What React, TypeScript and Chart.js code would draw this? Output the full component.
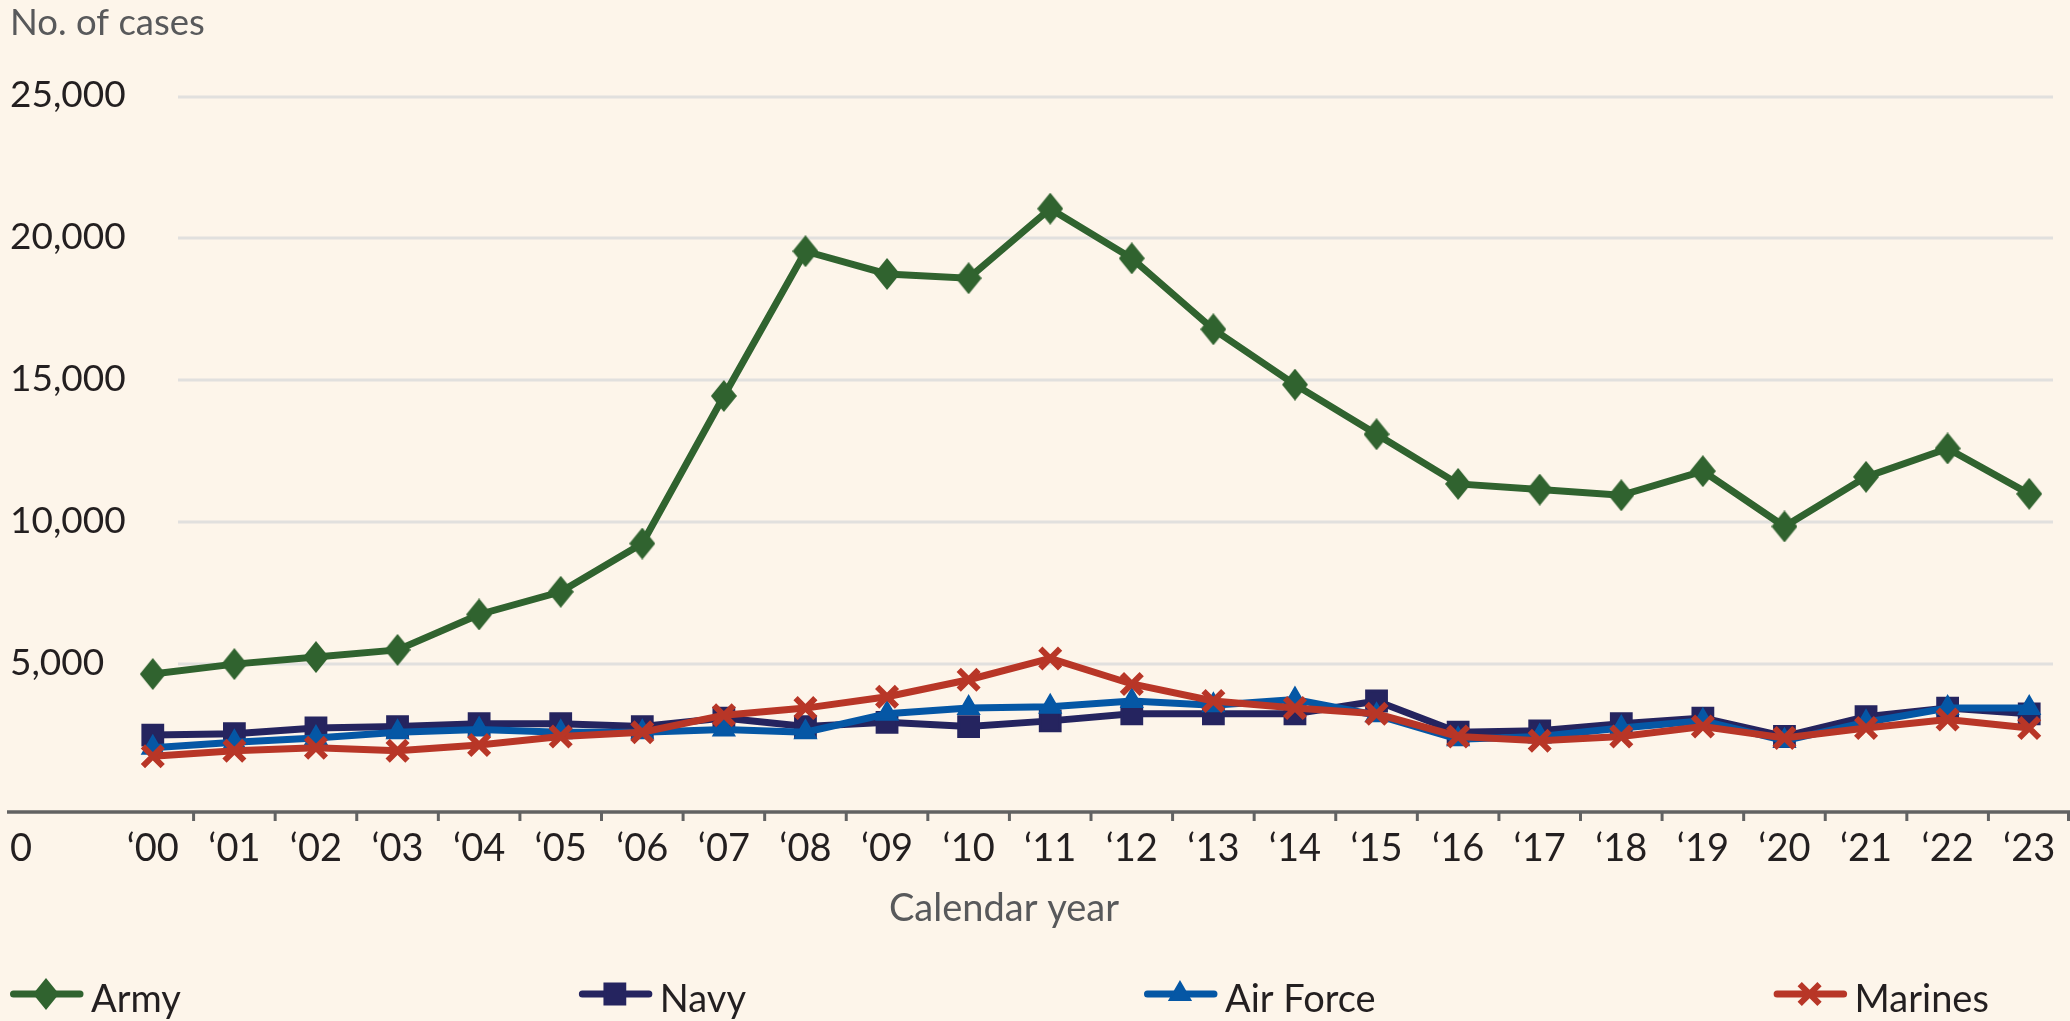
import { useEffect, useRef } from 'react';
import { Chart, registerables } from 'chart.js';
import { drawPoint } from 'chart.js/helpers';

Chart.register(...registerables);

// ---------- data ----------
const YEARS = ['‘00', '‘01', '‘02', '‘03', '‘04', '‘05', '‘06', '‘07', '‘08', '‘09', '‘10', '‘11', '‘12', '‘13', '‘14', '‘15', '‘16', '‘17', '‘18', '‘19', '‘20', '‘21', '‘22', '‘23'];
const ARMY = [4650, 5000, 5250, 5500, 6750, 7550, 9250, 14450, 19550, 18750, 18600, 21050, 19300, 16800, 14850, 13100, 11350, 11150, 10950, 11800, 9850, 11600, 12600, 11000];
const NAVY = [2500, 2550, 2750, 2800, 2900, 2900, 2800, 3100, 2800, 2950, 2800, 3000, 3250, 3250, 3250, 3700, 2600, 2650, 2900, 3100, 2450, 3150, 3450, 3250];
const AIR_FORCE = [2050, 2250, 2400, 2600, 2700, 2600, 2600, 2700, 2600, 3250, 3450, 3500, 3700, 3550, 3750, 3200, 2350, 2450, 2750, 3000, 2300, 2950, 3450, 3450];
const MARINES = [1750, 1950, 2050, 1950, 2150, 2450, 2600, 3200, 3450, 3850, 4450, 5200, 4300, 3700, 3450, 3250, 2450, 2300, 2450, 2800, 2400, 2750, 3050, 2750];
const SERIES_NAMES = ['Army', 'Navy', 'Air Force', 'Marines'];
const Y_MIN = 0;
const Y_MAX = 25000;
const Y_STEP = 5000;
const Y_TITLE = 'No. of cases';
const X_TITLE = 'Calendar year';

// ---------- styles ----------
const FONT = 'Lato, "Open Sans", "DejaVu Sans", sans-serif';
const FONT_SIZE = 38;
const Y_FONT_SIZE = 37;
const TITLE_FONT_SIZE = 36.5;
const BG = '#FDF5EA';
const GRID = '#E1E0DE';
const AXIS = '#626262';
const TEXT = '#231F20';
const MUTED = '#58595B';
const COLORS = ['#30632F', '#25245F', '#0557A5', '#B83627'];

const W = 2070;
const H = 1021;

function diamondCanvas(w: number, h: number, color: string) {
  const c = document.createElement('canvas');
  c.width = w;
  c.height = h;
  const g = c.getContext('2d')!;
  g.fillStyle = color;
  g.beginPath();
  g.moveTo(w / 2, 0);
  g.lineTo(w, h / 2);
  g.lineTo(w / 2, h);
  g.lineTo(0, h / 2);
  g.closePath();
  g.fill();
  return c;
}

export default function App() {
  const ref = useRef<HTMLCanvasElement | null>(null);

  useEffect(() => {
    document.body.style.margin = '0';
    document.body.style.background = BG;
    const canvas = ref.current;
    if (!canvas) return;

    const diamond = diamondCanvas(26, 32, COLORS[0]);

    const markers: any[] = [
      { pointStyle: diamond, radius: 15, borderWidth: 0 },
      { pointStyle: 'rect', radius: 14, borderWidth: 3 },
      { pointStyle: 'triangle', radius: 12, borderWidth: 2 },
      { pointStyle: 'crossRot', radius: 14, borderWidth: 6 },
    ];
    const seriesData = [ARMY, NAVY, AIR_FORCE, MARINES];
    const orders = [0, 3, 2, 1];

    const datasets = seriesData.map((data, i) => ({
      label: SERIES_NAMES[i],
      data,
      borderColor: COLORS[i],
      backgroundColor: COLORS[i],
      borderWidth: 7,
      tension: 0,
      pointStyle: markers[i].pointStyle,
      pointRadius: markers[i].radius,
      pointHoverRadius: markers[i].radius,
      pointBorderWidth: markers[i].borderWidth,
      pointBackgroundColor: COLORS[i],
      pointBorderColor: COLORS[i],
      order: orders[i],
    }));

    const decor = {
      id: 'decor',
      beforeDraw(chart: any) {
        const { ctx, width, height } = chart;
        ctx.save();
        ctx.fillStyle = BG;
        ctx.fillRect(0, 0, width, height);
        ctx.restore();
      },
      beforeDatasetsDraw(chart: any) {
        const { ctx, width } = chart;
        const ys = chart.scales.y;
        const xs = chart.scales.x;
        ctx.save();
        // horizontal grid lines
        ctx.strokeStyle = GRID;
        ctx.lineWidth = 3;
        for (let v = Y_MIN + Y_STEP; v <= Y_MAX; v += Y_STEP) {
          const py = Math.round(ys.getPixelForValue(v));
          ctx.beginPath();
          ctx.moveTo(xs.left + 66, py);
          ctx.lineTo(width - 17, py);
          ctx.stroke();
        }
        // baseline axis
        const base = ys.getPixelForValue(0) + 6;
        ctx.strokeStyle = AXIS;
        ctx.lineWidth = 3.5;
        ctx.beginPath();
        ctx.moveTo(7, base);
        ctx.lineTo(width, base);
        ctx.stroke();
        // tick marks between categories
        ctx.lineWidth = 3;
        const n = YEARS.length;
        const step = xs.getPixelForValue(1) - xs.getPixelForValue(0);
        for (let i = 0; i < n; i++) {
          let px = xs.getPixelForValue(i) + step / 2;
          px = Math.min(px, width - 1.5);
          ctx.beginPath();
          ctx.moveTo(px, base);
          ctx.lineTo(px, base + 9);
          ctx.stroke();
        }
        ctx.restore();
      },
      afterDraw(chart: any) {
        const { ctx } = chart;
        const xs = chart.scales.x;
        const ys = chart.scales.y;
        ctx.save();
        ctx.textBaseline = 'middle';
        ctx.textAlign = 'left';
        ctx.fillStyle = TEXT;
        // y tick labels
        ctx.font = `${Y_FONT_SIZE}px ${FONT}`;
        for (let v = Y_MIN + Y_STEP; v <= Y_MAX; v += Y_STEP) {
          ctx.fillText(v.toLocaleString('en-US'), ys.left, ys.getPixelForValue(v) - 1.5);
        }
        // zero label on the category-label row
        ctx.font = `${FONT_SIZE}px ${FONT}`;
        const labelMid = xs.top + 20 + (FONT_SIZE * 1.2) / 2;
        ctx.fillText(String(Y_MIN), ys.left, labelMid);
        // x-axis title
        ctx.fillStyle = MUTED;
        ctx.textAlign = 'center';
        ctx.fillText(X_TITLE, 1004, xs.top + 103);
        // legend
        ctx.textAlign = 'left';
        let x = 10;
        const symY = 994;
        const textY = 1000;
        SERIES_NAMES.forEach((name, i) => {
          ctx.strokeStyle = COLORS[i];
          ctx.lineWidth = 7;
          ctx.lineCap = 'round';
          ctx.beginPath();
          ctx.moveTo(x + 3.5, symY);
          ctx.lineTo(x + 70, symY);
          ctx.stroke();
          ctx.lineCap = 'butt';
          ctx.fillStyle = COLORS[i];
          ctx.strokeStyle = COLORS[i];
          ctx.lineWidth = markers[i].borderWidth;
          drawPoint(ctx, { pointStyle: markers[i].pointStyle, radius: markers[i].radius, rotation: 0, borderWidth: markers[i].borderWidth } as any, x + 36, symY);
          ctx.fillStyle = TEXT;
          const tx = x + 81;
          ctx.fillText(name, tx, textY);
          x = tx + ctx.measureText(name).width + 398;
        });
        ctx.restore();
      },
    };

    const chart = new Chart(canvas, {
      type: 'line',
      data: { labels: YEARS, datasets: datasets as any },
      options: {
        animation: false,
        responsive: true,
        maintainAspectRatio: false,
        devicePixelRatio: 1,
        layout: { autoPadding: false, padding: { left: 10, right: 0, top: 0, bottom: 0 } },
        font: { family: FONT, size: FONT_SIZE },
        plugins: {
          legend: { display: false },
          tooltip: { enabled: false },
          title: {
            display: true,
            text: Y_TITLE,
            align: 'start',
            color: MUTED,
            font: { family: FONT, size: TITLE_FONT_SIZE, weight: 'normal' },
            padding: { top: 1, bottom: 51.8 },
          },
        },
        scales: {
          x: {
            type: 'category',
            offset: true,
            grid: { display: false, drawTicks: false },
            border: { display: false },
            ticks: {
              color: TEXT,
              font: { family: FONT, size: FONT_SIZE },
              padding: 20,
              maxRotation: 0,
              autoSkip: false,
            },
            afterFit(scale: any) {
              scale.height = 215;
              scale.paddingLeft = 0;
              scale.paddingRight = 0;
            },
          },
          y: {
            min: Y_MIN,
            max: Y_MAX,
            grid: { display: false, drawTicks: false },
            border: { display: false },
            ticks: {
              display: false,
              stepSize: Y_STEP,
            },
            afterFit(scale: any) {
              scale.width = 102;
              scale.paddingTop = 0;
              scale.paddingBottom = 0;
            },
          },
        },
      } as any,
      plugins: [decor],
    });

    return () => chart.destroy();
  }, []);

  return (
    <div style={{ position: 'absolute', left: 0, top: 0, width: W, height: H }}>
      <canvas ref={ref} />
    </div>
  );
}
